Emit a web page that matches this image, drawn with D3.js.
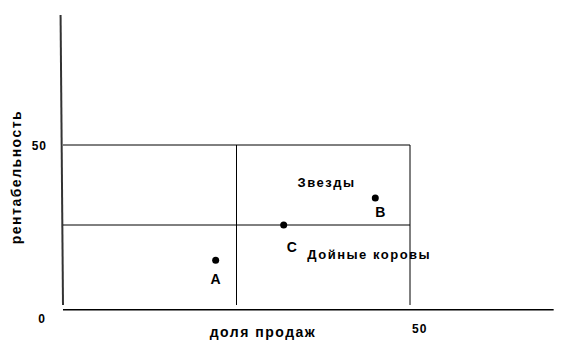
<!DOCTYPE html>
<html>
<head>
<meta charset="utf-8">
<script src="https://cdn.jsdelivr.net/npm/d3@7/dist/d3.min.js"></script>
<style>
body { margin: 0; background-color: white; }
text { font-family: "Liberation Sans", Arial, sans-serif; font-weight: bold; fill: black; }
</style>
</head>
<body>
<svg id="chart"></svg>
</body>
<script>
// points (share, profitability)
var names = ["A", "C", "B"];
var share = [22, 31.8, 45];
var profit = [14, 25, 33.4];
// quadrant labels
var quadNames = ["Звезды", "Дойные коровы"];
var quadX = [33.8, 35.2];
var quadY = [36.9, 14.4];
// grid lines of the matrix
var gridX = [25, 50];
var gridY = [25, 50];

const width = 579, height = 359;
var svg = d3.select("#chart").attr("width", width).attr("height", height);

var xscale = d3.scaleLinear().domain([0, 50]).range([63, 410]);
var yscale = d3.scaleLinear().domain([0, 50]).range([305, 145]);

// axes (plain lines, like the original sketch)
svg.append("line")
   .attr("x1", xscale(-0.35)).attr("y1", yscale(90.6))
   .attr("x2", xscale(0)).attr("y2", yscale(0))
   .attr("stroke", "#333").attr("stroke-width", 2);
svg.append("line")
   .attr("x1", xscale(0)).attr("y1", yscale(-1.5))
   .attr("x2", xscale(70.7)).attr("y2", yscale(-1.5))
   .attr("stroke", "black").attr("stroke-width", 1.5);

// matrix lines
svg.selectAll(".vline").data(gridX).enter().append("line")
   .attr("x1", d => xscale(d)).attr("x2", d => xscale(d))
   .attr("y1", yscale(50)).attr("y2", yscale(0))
   .attr("stroke", "black").attr("stroke-width", 1);
svg.selectAll(".hline").data(gridY).enter().append("line")
   .attr("x1", xscale(0)).attr("x2", xscale(50))
   .attr("y1", d => yscale(d)).attr("y2", d => yscale(d))
   .attr("stroke", "black").attr("stroke-width", 1);

// tick labels
svg.append("text").attr("x", 47).attr("y", yscale(50) + 5)
   .attr("text-anchor", "end").attr("font-size", 12).attr("letter-spacing", 1).text("50");
svg.append("text").attr("x", 45).attr("y", 323)
   .attr("text-anchor", "end").attr("font-size", 12).text("0");
svg.append("text").attr("x", xscale(50) + 2).attr("y", 333)
   .attr("font-size", 12).attr("letter-spacing", 1).text("50");

// axis titles
svg.append("text").attr("x", 263).attr("y", 337)
   .attr("text-anchor", "middle").attr("font-size", 14).attr("letter-spacing", 1.5).text("доля продаж");
svg.append("text").attr("transform", "translate(21,177) rotate(-90)")
   .attr("text-anchor", "middle").attr("font-size", 14).attr("letter-spacing", 1.5).text("рентабельность");

// points
svg.selectAll("circle").data(names).enter().append("circle")
   .attr("cx", (d, i) => xscale(share[i]))
   .attr("cy", (d, i) => yscale(profit[i]))
   .attr("r", 3.5).attr("fill", "black");
svg.selectAll(".plabel").data(names).enter().append("text")
   .attr("x", (d, i) => xscale(share[i]) + (d == "A" ? 0 : d == "B" ? 5 : 8))
   .attr("y", (d, i) => yscale(profit[i]) + (d == "B" ? 19 : d == "C" ? 27 : 24))
   .attr("text-anchor", "middle").attr("font-size", 14).text(d => d);

// quadrant names
svg.selectAll(".qlabel").data(quadNames).enter().append("text")
   .attr("x", (d, i) => xscale(quadX[i]))
   .attr("y", (d, i) => yscale(quadY[i]))
   .attr("font-size", 13).attr("letter-spacing", 1.5).text(d => d);
</script>
</html>
